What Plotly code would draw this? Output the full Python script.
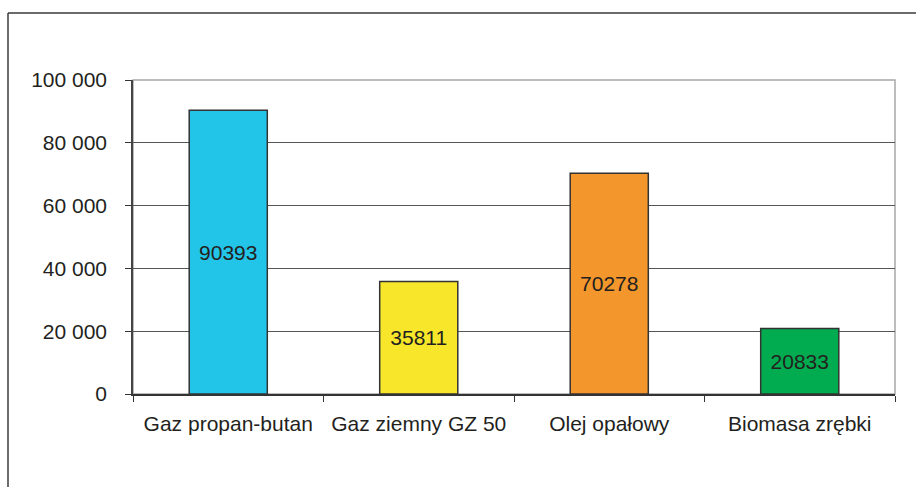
import plotly.graph_objects as go

categories = ["Gaz propan-butan", "Gaz ziemny GZ 50", "Olej opałowy", "Biomasa zrębki"]
values = [90393, 35811, 70278, 20833]
bar_colors = ["#22C4E8", "#F8E62A", "#F3962C", "#00AC4F"]
y_tickvals = [0, 20000, 40000, 60000, 80000, 100000]
y_ticktext = ["0", "20 000", "40 000", "60 000", "80 000", "100 000"]

W, H = 916, 487
L, R, T, B = 133, 21, 80, 93
FONT = "Liberation Sans, Arial, sans-serif"

fig = go.Figure(
    go.Bar(
        x=categories,
        y=values,
        text=[str(v) for v in values],
        textposition="inside",
        insidetextanchor="middle",
        textangle=0,
        textfont=dict(family=FONT, size=21, color="#231F20"),
        marker=dict(color=bar_colors, line=dict(color="#333333", width=1.5)),
        width=0.41,
        hoverinfo="skip",
    )
)

# outer frame (top and left edges visible)
px_to_x = lambda px: (px - L) / (W - L - R)
px_to_y = lambda py: 1 - (py - T) / (H - T - B)
fig.add_shape(type="line", xref="paper", yref="paper",
              x0=px_to_x(8), y0=px_to_y(13), x1=px_to_x(W + 5), y1=px_to_y(13),
              line=dict(color="#3a3a3a", width=1.5))
fig.add_shape(type="line", xref="paper", yref="paper",
              x0=px_to_x(8), y0=px_to_y(13), x1=px_to_x(8), y1=px_to_y(H + 5),
              line=dict(color="#3a3a3a", width=1.5))
# plot area border (top and right in light gray)
fig.add_shape(type="rect", xref="paper", yref="paper", x0=0, y0=0, x1=1, y1=1,
              line=dict(color="#a8a8a8", width=1.5), layer="below")

fig.update_layout(
    width=W, height=H,
    margin=dict(l=L, r=R, t=T, b=B),
    paper_bgcolor="white", plot_bgcolor="white",
    font=dict(family=FONT, size=21, color="#231F20"),
    showlegend=False,
    xaxis=dict(
        type="category",
        tickson="boundaries",
        ticks="outside", ticklen=6, tickcolor="#333333", tickwidth=1,
        showline=True, linecolor="#333333", linewidth=1.5,
        showgrid=False,
        tickfont=dict(size=21),
        ticklabelstandoff=10,
    ),
    yaxis=dict(
        range=[0, 100000],
        tickvals=y_tickvals, ticktext=y_ticktext,
        ticks="outside", ticklen=6, tickcolor="#333333", tickwidth=1,
        showline=True, linecolor="#444444", linewidth=1.5,
        showgrid=True, gridcolor="#555555", gridwidth=1,
        zeroline=False,
        tickfont=dict(size=21),
        ticklabelstandoff=14,
    ),
)

fig.write_html("out.html")
